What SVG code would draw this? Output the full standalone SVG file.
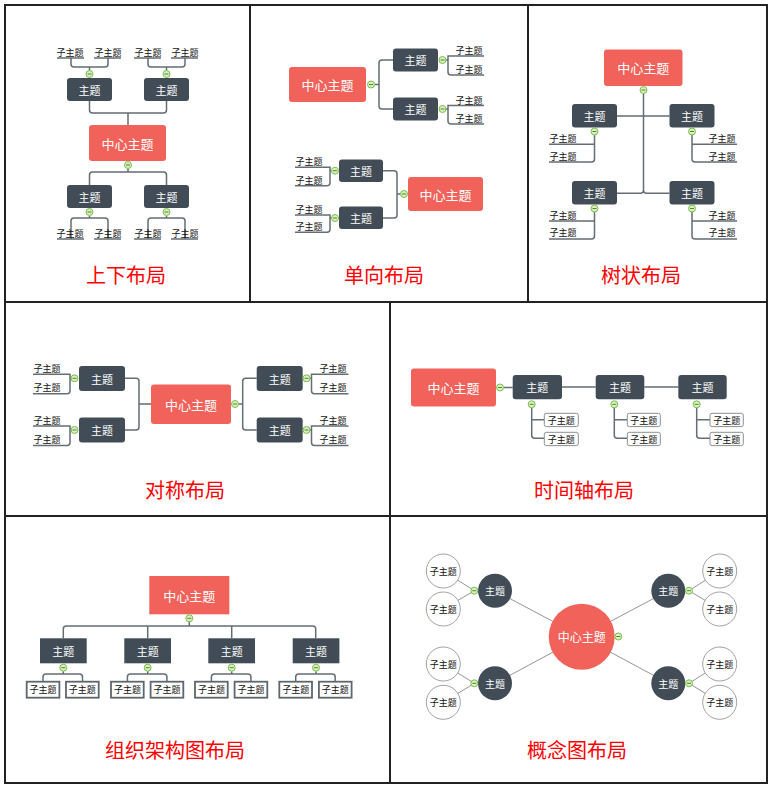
<svg xmlns="http://www.w3.org/2000/svg" xmlns:xlink="http://www.w3.org/1999/xlink" width="780" height="790" viewBox="0 0 780 790">
<style>
.b{fill:none;stroke:#222;stroke-width:2}
.cn{fill:#F1625A}
.tp{fill:#414C56}
.ln{fill:none;stroke:#636E76;stroke-width:1.5}
.ul{fill:none;stroke:#636E76;stroke-width:1.5}
.thin{fill:none;stroke:#7a7a7a;stroke-width:0.8}
text{font-family:"Noto Sans CJK SC","Noto Sans",sans-serif;text-anchor:middle;dominant-baseline:central}
.tc{fill:#fff;font-size:13px}
.tt{fill:#fff;font-size:11px}
.ts{fill:#111;font-size:9px}
.ti{fill:#f00;font-size:20px}
.sb{fill:#fff;stroke:#8a8f93;stroke-width:1}
.ob{fill:#fff;stroke:#5e676e;stroke-width:1.8}
.cc{fill:#fff;stroke:#8a8a8a;stroke-width:0.8}
</style>
<defs>
<g id="col"><circle r="3.5" fill="#d8efc4" stroke="#7dbd48" stroke-width="1"/><line x1="-2" y1="0" x2="2" y2="0" stroke="#4f8a2a" stroke-width="1"/></g>
</defs>
<rect width="780" height="790" fill="#fff"/>
<g id="frame">
<path class="b" d="M5,5 H767 V783 H5 Z M5,302 H767 M5,516 H767 M250,5 V302 M528,5 V302 M390,302 V783"/>
</g>

<g id="titles">
<text class="ti" x="126" y="274">上下布局</text>
<text class="ti" x="384" y="274">单向布局</text>
<text class="ti" x="641" y="274">树状布局</text>
<text class="ti" x="185" y="489">对称布局</text>
<text class="ti" x="584" y="489">时间轴布局</text>
<text class="ti" x="175" y="749">组织架构图布局</text>
<text class="ti" x="577" y="749">概念图布局</text>
</g>

<g id="connectors">
<!-- panel 1 -->
<path class="ln" d="M128,125 V113 M89.5,101 V110 Q89.5,113 92.5,113 H163.5 Q166.5,113 166.5,110 V101"/>
<path class="ln" d="M89.5,70.5 V67 M71,58 V64 Q71,67 74,67 H105 Q108,67 108,64 V58"/>
<path class="ln" d="M166.5,70.5 V67 M148,58 V64 Q148,67 151,67 H182 Q185,67 185,64 V58"/>
<path class="ln" d="M128,169 V172 M89.5,185 V175 Q89.5,172 92.5,172 H163.5 Q166.5,172 166.5,175 V185"/>
<path class="ln" d="M89.5,216 V218 M71,239 V221 Q71,218 74,218 H105 Q108,218 108,221 V239"/>
<path class="ln" d="M166.5,216 V218 M148,239 V221 Q148,218 151,218 H182 Q185,218 185,221 V239"/>
<path class="ul" d="M57,58 H84 M94,58 H121 M134,58 H161 M171,58 H198 M57,239 H84 M94,239 H121 M134,239 H161 M171,239 H198"/>
<!-- panel 2 -->
<path class="ln" d="M374.5,84.5 H379 M393,60 H382 Q379,60 379,63 V106 Q379,109 382,109 H393"/>
<path class="ln" d="M446,60 H448 M484,56 H448 V72 Q448,75 451,75 H484"/>
<path class="ln" d="M446,109 H448 M484,105.5 H448 V121 Q448,124 451,124 H484"/>
<path class="ln" d="M400.5,194 H397 M383,170.7 H394 Q397,170.7 397,173.7 V215 Q397,218 394,218 H383"/>
<path class="ln" d="M331.5,170.7 H330 M295,167.3 H330 V182.7 Q330,185.7 327,185.7 H295"/>
<path class="ln" d="M331.5,218 H330 M295,215 H330 V229.3 Q330,232.3 327,232.3 H295"/>
<!-- panel 3 -->
<path class="ln" d="M643.5,93.5 V190 Q643.5,193.3 640.5,193.3 H617 M643.5,190 Q643.5,193.3 646.5,193.3 H669.5 M617,116 H669.5"/>
<path class="ln" d="M594.5,135 V159 Q594.5,162 591.5,162 H549 M549,144.3 H594.5"/>
<path class="ln" d="M692,135 V159 Q692,162 695,162 H737 M692,144.3 H737"/>
<path class="ln" d="M594.5,212 V236 Q594.5,239 591.5,239 H549 M549,221 H594.5"/>
<path class="ln" d="M692,212 V236 Q692,239 695,239 H737 M692,221 H737"/>
<!-- panel 4 -->
<path class="ln" d="M238.5,404 H242.7 M256.7,378.3 H245.7 Q242.7,378.3 242.7,381.3 V427 Q242.7,430 245.7,430 H256.7"/>
<path class="ln" d="M151,404 H139 M125,378.3 H136 Q139,378.3 139,381.3 V427 Q139,430 136,430 H125"/>
<path class="ln" d="M71,378.3 H70 M33,374.3 H70 V390.8 Q70,393.8 67,393.8 H33"/>
<path class="ln" d="M71,430 H70 M33,426 H70 V442.5 Q70,445.5 67,445.5 H33"/>
<path class="ln" d="M310,378.3 H311.5 M348.5,374.3 H311.5 V390.8 Q311.5,393.8 314.5,393.8 H348.5"/>
<path class="ln" d="M310,430 H311.5 M348.5,426 H311.5 V442.5 Q311.5,445.5 314.5,445.5 H348.5"/>
<!-- panel 5 -->
<path class="ln" d="M503.5,387.5 H512.7 M562,387 H595.7 M644.3,387 H678.3"/>
<path class="ln" d="M531.7,407.8 V435.3 Q531.7,438.3 534.7,438.3 H544.3 M531.7,419.7 H544.3"/>
<path class="ln" d="M614.3,407.8 V435.3 Q614.3,438.3 617.3,438.3 H627.3 M614.3,419.7 H627.3"/>
<path class="ln" d="M696.7,407.8 V435.3 Q696.7,438.3 699.7,438.3 H710 M696.7,419.7 H710"/>
<!-- panel 6 -->
<path class="ln" d="M189.3,621.8 V626 M63.3,638.3 V629 Q63.3,626 66.3,626 H312.7 Q315.7,626 315.7,629 V638.3 M147.7,626 V638.3 M231.7,626 V638.3"/>
<path class="ln" d="M63.3,671.2 V674 M43,681.7 V677 Q43,674 46,674 H79.5 Q82.5,674 82.5,677 V681.7"/>
<path class="ln" d="M147.7,671.2 V674 M127.4,681.7 V677 Q127.4,674 130.4,674 H163.9 Q166.9,674 166.9,677 V681.7"/>
<path class="ln" d="M231.7,671.2 V674 M211.4,681.7 V677 Q211.4,674 214.4,674 H247.9 Q250.9,674 250.9,677 V681.7"/>
<path class="ln" d="M316,671.2 V674 M295.7,681.7 V677 Q295.7,674 298.7,674 H332.2 Q335.2,674 335.2,677 V681.7"/>
<!-- panel 7 -->
<path class="thin" d="M495,590.7 L581.7,636.7 L668.3,590.7 M495,683.3 L581.7,636.7 L668.3,683.3"/>
<path class="thin" d="M443.3,571 L474.3,590.7 L443.3,609 M443.3,664 L474.3,683.3 L443.3,702.3"/>
<path class="thin" d="M719.7,571 L689,590.7 L719.7,609 M719.7,664 L689,683.3 L719.7,702.3"/>
</g>

<!-- Panel 1 nodes -->
<g id="p1-center"><rect class="cn" x="89" y="125" width="77" height="36" rx="3"/><text class="tc" x="127.5" y="143">中心主题</text></g>
<g id="p1-t1"><rect class="tp" x="67" y="78" width="45" height="23" rx="3"/><text class="tt" x="89.5" y="89.5">主题</text></g>
<g id="p1-t2"><rect class="tp" x="144" y="78" width="45" height="23" rx="3"/><text class="tt" x="166.5" y="89.5">主题</text></g>
<g id="p1-t3"><rect class="tp" x="67" y="185" width="45" height="23" rx="3"/><text class="tt" x="89.5" y="196.5">主题</text></g>
<g id="p1-t4"><rect class="tp" x="144" y="185" width="45" height="23" rx="3"/><text class="tt" x="166.5" y="196.5">主题</text></g>
<g id="p1-subs">
<text class="ts" x="70" y="52">子主题</text><text class="ts" x="108" y="52">子主题</text><text class="ts" x="148" y="52">子主题</text><text class="ts" x="185" y="52">子主题</text>
<text class="ts" x="70" y="233">子主题</text><text class="ts" x="108" y="233">子主题</text><text class="ts" x="148" y="233">子主题</text><text class="ts" x="185" y="233">子主题</text>
</g>
<g id="p1-col"><use href="#col" x="89.5" y="74"/><use href="#col" x="166.5" y="74"/><use href="#col" x="128" y="165"/><use href="#col" x="89.5" y="212"/><use href="#col" x="166.5" y="212"/></g>

<!-- Panel 2 nodes -->
<g id="p2-center1"><rect class="cn" x="289" y="67" width="77" height="35" rx="3"/><text class="tc" x="327.5" y="84.5">中心主题</text></g>
<g id="p2-t1"><rect class="tp" x="393" y="48.5" width="45" height="23" rx="3"/><text class="tt" x="415.5" y="60">主题</text></g>
<g id="p2-t2"><rect class="tp" x="393" y="97.5" width="45" height="23" rx="3"/><text class="tt" x="415.5" y="109">主题</text></g>
<g id="p2-center2"><rect class="cn" x="408" y="177" width="75" height="34" rx="3"/><text class="tc" x="445.5" y="194">中心主题</text></g>
<g id="p2-t3"><rect class="tp" x="339" y="159.5" width="44" height="22.5" rx="3"/><text class="tt" x="361" y="170.7">主题</text></g>
<g id="p2-t4"><rect class="tp" x="339" y="206.5" width="44" height="22.5" rx="3"/><text class="tt" x="361" y="218">主题</text></g>
<g id="p2-subs">
<text class="ts" x="469" y="50.5">子主题</text><text class="ts" x="469" y="69">子主题</text><text class="ts" x="469" y="100">子主题</text><text class="ts" x="469" y="118.5">子主题</text>
<text class="ts" x="309" y="161.7">子主题</text><text class="ts" x="309" y="180">子主题</text><text class="ts" x="309" y="209.3">子主题</text><text class="ts" x="309" y="226.7">子主题</text>
</g>
<g id="p2-col"><use href="#col" x="371" y="84.5"/><use href="#col" x="442.5" y="60"/><use href="#col" x="442.5" y="109"/><use href="#col" x="404" y="194"/><use href="#col" x="335" y="170.7"/><use href="#col" x="335" y="218"/></g>

<!-- Panel 3 nodes -->
<g id="p3-center"><rect class="cn" x="604" y="49.5" width="78.5" height="36.5" rx="3"/><text class="tc" x="643.3" y="67.7">中心主题</text></g>
<g id="p3-t1"><rect class="tp" x="572" y="104" width="45" height="23.5" rx="3"/><text class="tt" x="594.5" y="115.7">主题</text></g>
<g id="p3-t2"><rect class="tp" x="669.5" y="104" width="45" height="23.5" rx="3"/><text class="tt" x="692" y="115.7">主题</text></g>
<g id="p3-t3"><rect class="tp" x="572" y="181" width="45" height="23.5" rx="3"/><text class="tt" x="594.5" y="192.7">主题</text></g>
<g id="p3-t4"><rect class="tp" x="669.5" y="181" width="45" height="23.5" rx="3"/><text class="tt" x="692" y="192.7">主题</text></g>
<g id="p3-subs">
<text class="ts" x="563" y="138.5">子主题</text><text class="ts" x="563" y="156.3">子主题</text><text class="ts" x="722" y="138.5">子主题</text><text class="ts" x="722" y="156.3">子主题</text>
<text class="ts" x="563" y="215">子主题</text><text class="ts" x="563" y="232.7">子主题</text><text class="ts" x="722" y="215">子主题</text><text class="ts" x="722" y="232.7">子主题</text>
</g>
<g id="p3-col"><use href="#col" x="643.5" y="90"/><use href="#col" x="594.5" y="131.5"/><use href="#col" x="692" y="131.5"/><use href="#col" x="594.5" y="208.5"/><use href="#col" x="692" y="208.5"/></g>

<!-- Panel 4 nodes -->
<g id="p4-center"><rect class="cn" x="151" y="384.5" width="80" height="39.5" rx="3"/><text class="tc" x="191" y="404.2">中心主题</text></g>
<g id="p4-t1"><rect class="tp" x="79" y="366" width="46" height="25" rx="3"/><text class="tt" x="102" y="378.5">主题</text></g>
<g id="p4-t2"><rect class="tp" x="79" y="417.5" width="46" height="25" rx="3"/><text class="tt" x="102" y="430">主题</text></g>
<g id="p4-t3"><rect class="tp" x="256.7" y="366" width="46" height="25" rx="3"/><text class="tt" x="279.7" y="378.5">主题</text></g>
<g id="p4-t4"><rect class="tp" x="256.7" y="417.5" width="46" height="25" rx="3"/><text class="tt" x="279.7" y="430">主题</text></g>
<g id="p4-subs">
<text class="ts" x="47" y="368.5">子主题</text><text class="ts" x="47" y="387.5">子主题</text><text class="ts" x="47" y="420.5">子主题</text><text class="ts" x="47" y="439.5">子主题</text>
<text class="ts" x="333" y="368.5">子主题</text><text class="ts" x="333" y="387.5">子主题</text><text class="ts" x="333" y="420.5">子主题</text><text class="ts" x="333" y="439.5">子主题</text>
</g>
<g id="p4-col"><use href="#col" x="235" y="404"/><use href="#col" x="74.5" y="378.3"/><use href="#col" x="74.5" y="430"/><use href="#col" x="306.5" y="378.3"/><use href="#col" x="306.5" y="430"/></g>

<!-- Panel 5 nodes -->
<g id="p5-center"><rect class="cn" x="411" y="368.5" width="85" height="38" rx="3"/><text class="tc" x="453.5" y="387.5">中心主题</text></g>
<g id="p5-t1"><rect class="tp" x="512.7" y="375" width="49.3" height="24.3" rx="3"/><text class="tt" x="537.3" y="387.2">主题</text></g>
<g id="p5-t2"><rect class="tp" x="595.7" y="375" width="48.6" height="24.3" rx="3"/><text class="tt" x="620" y="387.2">主题</text></g>
<g id="p5-t3"><rect class="tp" x="678.3" y="375" width="48.4" height="24.3" rx="3"/><text class="tt" x="702.5" y="387.2">主题</text></g>
<g id="p5-s1"><rect class="sb" x="544.3" y="413.3" width="34" height="13.3" rx="2"/><text class="ts" x="561.3" y="420">子主题</text></g>
<g id="p5-s2"><rect class="sb" x="544.3" y="432.3" width="34" height="13.3" rx="2"/><text class="ts" x="561.3" y="439">子主题</text></g>
<g id="p5-s3"><rect class="sb" x="627.3" y="413.3" width="33" height="13.3" rx="2"/><text class="ts" x="643.8" y="420">子主题</text></g>
<g id="p5-s4"><rect class="sb" x="627.3" y="432.3" width="33" height="13.3" rx="2"/><text class="ts" x="643.8" y="439">子主题</text></g>
<g id="p5-s5"><rect class="sb" x="710" y="413.3" width="33.3" height="13.3" rx="2"/><text class="ts" x="726.7" y="420">子主题</text></g>
<g id="p5-s6"><rect class="sb" x="710" y="432.3" width="33.3" height="13.3" rx="2"/><text class="ts" x="726.7" y="439">子主题</text></g>
<g id="p5-col"><use href="#col" x="500" y="387.5"/><use href="#col" x="531.7" y="404.3"/><use href="#col" x="614.3" y="404.3"/><use href="#col" x="696.7" y="404.3"/></g>

<!-- Panel 6 nodes -->
<g id="p6-center"><rect class="cn" x="149.3" y="576" width="80" height="38.3"/><text class="tc" x="189.3" y="595">中心主题</text></g>
<g id="p6-t1"><rect class="tp" x="40" y="638.3" width="46.7" height="25"/><text class="tt" x="63.3" y="650.8">主题</text></g>
<g id="p6-t2"><rect class="tp" x="124.3" y="638.3" width="46.7" height="25"/><text class="tt" x="147.7" y="650.8">主题</text></g>
<g id="p6-t3"><rect class="tp" x="208.3" y="638.3" width="46.7" height="25"/><text class="tt" x="231.7" y="650.8">主题</text></g>
<g id="p6-t4"><rect class="tp" x="292.7" y="638.3" width="46.7" height="25"/><text class="tt" x="316" y="650.8">主题</text></g>
<g id="p6-s1"><rect class="ob" x="26.7" y="681.7" width="32.7" height="16"/><text class="ts" x="43" y="689.7">子主题</text></g>
<g id="p6-s2"><rect class="ob" x="66" y="681.7" width="32.7" height="16"/><text class="ts" x="82.3" y="689.7">子主题</text></g>
<g id="p6-s3"><rect class="ob" x="111" y="681.7" width="32.7" height="16"/><text class="ts" x="127.4" y="689.7">子主题</text></g>
<g id="p6-s4"><rect class="ob" x="150.6" y="681.7" width="32.7" height="16"/><text class="ts" x="166.9" y="689.7">子主题</text></g>
<g id="p6-s5"><rect class="ob" x="195" y="681.7" width="32.7" height="16"/><text class="ts" x="211.4" y="689.7">子主题</text></g>
<g id="p6-s6"><rect class="ob" x="234.6" y="681.7" width="32.7" height="16"/><text class="ts" x="250.9" y="689.7">子主题</text></g>
<g id="p6-s7"><rect class="ob" x="279.3" y="681.7" width="32.7" height="16"/><text class="ts" x="295.7" y="689.7">子主题</text></g>
<g id="p6-s8"><rect class="ob" x="318.9" y="681.7" width="32.7" height="16"/><text class="ts" x="335.2" y="689.7">子主题</text></g>
<g id="p6-col"><use href="#col" x="189.3" y="618.3"/><use href="#col" x="63.3" y="667.7"/><use href="#col" x="147.7" y="667.7"/><use href="#col" x="231.7" y="667.7"/><use href="#col" x="316" y="667.7"/></g>

<!-- Panel 7 nodes -->
<g id="p7-center"><circle class="cn" cx="581.7" cy="636.7" r="33"/><text class="tc" x="581.7" y="636.7" style="font-size:12px">中心主题</text></g>
<g id="p7-t1"><circle class="tp" cx="495" cy="590.7" r="17"/><text class="tt" x="495" y="590.7" style="font-size:10px">主题</text></g>
<g id="p7-t2"><circle class="tp" cx="668.3" cy="590.7" r="17"/><text class="tt" x="668.3" y="590.7" style="font-size:10px">主题</text></g>
<g id="p7-t3"><circle class="tp" cx="495" cy="683.3" r="17"/><text class="tt" x="495" y="683.3" style="font-size:10px">主题</text></g>
<g id="p7-t4"><circle class="tp" cx="668.3" cy="683.3" r="17"/><text class="tt" x="668.3" y="683.3" style="font-size:10px">主题</text></g>
<g id="p7-s1"><circle class="cc" cx="443.3" cy="571" r="17"/><text class="ts" x="443.3" y="571">子主题</text></g>
<g id="p7-s2"><circle class="cc" cx="443.3" cy="609" r="17"/><text class="ts" x="443.3" y="609">子主题</text></g>
<g id="p7-s3"><circle class="cc" cx="443.3" cy="664" r="17"/><text class="ts" x="443.3" y="664">子主题</text></g>
<g id="p7-s4"><circle class="cc" cx="443.3" cy="702.3" r="17"/><text class="ts" x="443.3" y="702.3">子主题</text></g>
<g id="p7-s5"><circle class="cc" cx="719.7" cy="571" r="17"/><text class="ts" x="719.7" y="571">子主题</text></g>
<g id="p7-s6"><circle class="cc" cx="719.7" cy="609" r="17"/><text class="ts" x="719.7" y="609">子主题</text></g>
<g id="p7-s7"><circle class="cc" cx="719.7" cy="664" r="17"/><text class="ts" x="719.7" y="664">子主题</text></g>
<g id="p7-s8"><circle class="cc" cx="719.7" cy="702.3" r="17"/><text class="ts" x="719.7" y="702.3">子主题</text></g>
<g id="p7-col"><use href="#col" x="618.3" y="636.5"/><use href="#col" x="474.3" y="590.7"/><use href="#col" x="689" y="590.7"/><use href="#col" x="474.3" y="683.3"/><use href="#col" x="689" y="683.3"/></g>
</svg>
